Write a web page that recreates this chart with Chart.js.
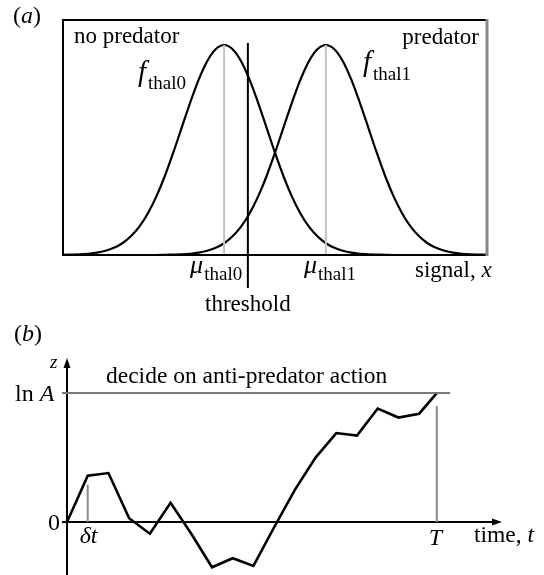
<!DOCTYPE html>
<html><head><meta charset="utf-8">
<script src="https://cdn.jsdelivr.net/npm/chart.js@4/dist/chart.umd.min.js"></script>
<style>
html,body{margin:0;padding:0;background:#fff;width:544px;height:575px;overflow:hidden}
canvas{position:absolute;left:0}
#ca{top:0}
#cb{top:310px}
</style></head><body>
<canvas id="ca" width="544" height="330"></canvas>
<canvas id="cb" width="544" height="265"></canvas>
<script>
// ---------- panel (a) data ----------
const signalX = [0,2,4,6,8,10,12,14,16,18,20,22,24,26,28,30,32,34,36,38,40,42,44,46,48,50,52,54,56,58,60,62,64,66,68,70,72,74,76,78,80,82,84,86,88,90,92,94,96,98,100];
const fThal0 = [0.001,0.002,0.003,0.006,0.011,0.020,0.034,0.056,0.089,0.135,0.198,0.278,0.375,0.487,0.607,0.726,0.835,0.923,0.980,1.000,0.980,0.923,0.835,0.726,0.607,0.487,0.375,0.278,0.198,0.135,0.089,0.056,0.034,0.020,0.011,0.006,0.003,0.002,0.001,0,0,0,0,0,0,0,0,0,0,0,0];
const fThal1 = [0,0,0,0,0,0,0,0,0,0,0,0,0.001,0.002,0.003,0.006,0.011,0.020,0.034,0.056,0.089,0.135,0.198,0.278,0.375,0.487,0.607,0.726,0.835,0.923,0.980,1.000,0.980,0.923,0.835,0.726,0.607,0.487,0.375,0.278,0.198,0.135,0.089,0.056,0.034,0.020,0.011,0.006,0.003,0.002,0.001];
const muThal0 = 38;
const muThal1 = 62;
const thresholdX = 43.6;

// ---------- panel (b) data ----------
const timeT = [0,1,2,3,4,5,6,7,8,9,10,11,12,13,14,15,16,17,17.85];
const zPath = [0,0.36,0.38,0.03,-0.09,0.15,-0.09,-0.35,-0.28,-0.34,-0.04,0.25,0.50,0.69,0.67,0.88,0.81,0.84,1.0];
const lnA = 1;
const bigT = 17.85;
const deltaT = 1;

const SERIF = "'Liberation Serif', 'Times New Roman', serif";
function F(size, italic){ return (italic ? 'italic ' : '') + size + 'px ' + SERIF; }
function seq(ctx, parts, x, y){
  ctx.textBaseline = 'alphabetic';
  ctx.textAlign = 'left';
  let cx = x;
  for (const p of parts){
    ctx.font = p.f;
    ctx.fillText(p.t, cx, y + (p.dy || 0));
    cx += ctx.measureText(p.t).width + (p.gap || 0);
  }
  return cx;
}
function pts(xs, ys){ return xs.map((x,i)=>({x:x, y:ys[i]})); }

// ---------- chart (a) ----------
const boxPlugin = {
  id:'boxA',
  afterDatasetsDraw(chart){
    const {ctx, chartArea:a} = chart;
    ctx.save();
    ctx.lineWidth = 2;
    ctx.strokeStyle = '#000';
    ctx.beginPath();
    ctx.moveTo(a.right, a.top); ctx.lineTo(a.left, a.top); ctx.lineTo(a.left, a.bottom); ctx.lineTo(a.right, a.bottom);
    ctx.stroke();
    ctx.strokeStyle = '#888';
    ctx.lineWidth = 3;
    ctx.beginPath(); ctx.moveTo(a.right, a.top - 1); ctx.lineTo(a.right, a.bottom + 1); ctx.stroke();
    ctx.fillStyle = '#000';
    seq(ctx, [{t:'(', f:F(24)}, {t:'a', f:F(24,true)}, {t:')', f:F(24)}], 13, 23);
    ctx.font = F(23);
    ctx.fillText('no predator', 74, 43);
    ctx.textAlign = 'right';
    ctx.fillText('predator', 479, 44);
    seq(ctx, [{t:'f', f:F(29,true), gap:2}, {t:'thal0', f:F(19), dy:8}], 138, 81);
    seq(ctx, [{t:'f', f:F(29,true), gap:2}, {t:'thal1', f:F(19), dy:9}], 363, 71);
    const xs = chart.scales.x;
    seq(ctx, [{t:'\u03bc', f:F(26,true), gap:1}, {t:'thal0', f:F(19), dy:7}], xs.getPixelForValue(muThal0) - 34, 273);
    seq(ctx, [{t:'\u03bc', f:F(26,true), gap:1}, {t:'thal1', f:F(19), dy:7}], xs.getPixelForValue(muThal1) - 22, 273);
    seq(ctx, [{t:'signal, ', f:F(23)}, {t:'x', f:F(23,true)}], 415, 277);
    ctx.font = F(23);
    ctx.textAlign = 'center';
    ctx.fillText('threshold', xs.getPixelForValue(thresholdX), 311);
    ctx.restore();
  }
};

new Chart(document.getElementById('ca'), {
  type:'line',
  data:{ datasets:[
    {data:pts([muThal0,muThal0],[0,1]), borderColor:'#c4c4c4', borderWidth:2, pointRadius:0},
    {data:pts([muThal1,muThal1],[0,1]), borderColor:'#c4c4c4', borderWidth:2, pointRadius:0},
    {data:pts(signalX,fThal0), borderColor:'#000', borderWidth:2.2, pointRadius:0, tension:0.3},
    {data:pts(signalX,fThal1), borderColor:'#000', borderWidth:2.2, pointRadius:0, tension:0.3},
    {data:pts([thresholdX,thresholdX],[-0.157,1.01]), borderColor:'#000', borderWidth:2, pointRadius:0, clip:false}
  ]},
  options:{
    responsive:false, animation:false, devicePixelRatio:1,
    layout:{padding:{left:63, top:20, right:57, bottom:75}},
    plugins:{legend:{display:false}, tooltip:{enabled:false}},
    scales:{
      x:{type:'linear', min:0, max:100, display:false},
      y:{type:'linear', min:0, max:1.119, display:false}
    }
  },
  plugins:[boxPlugin]
});

// ---------- chart (b) ----------
const axesPlugin = {
  id:'axesB',
  beforeDatasetsDraw(chart){
    const {ctx} = chart;
    const xs = chart.scales.x, ys = chart.scales.y;
    const x0 = xs.getPixelForValue(0), y0 = ys.getPixelForValue(0);
    const yTop = ys.getPixelForValue(ys.max) - 2, yBot = ys.getPixelForValue(ys.min);
    const xEnd = xs.getPixelForValue(xs.max);
    ctx.save();
    ctx.strokeStyle = '#000'; ctx.fillStyle = '#000'; ctx.lineWidth = 2;
    ctx.beginPath(); ctx.moveTo(x0, yBot); ctx.lineTo(x0, yTop + 8); ctx.stroke();
    ctx.beginPath(); ctx.moveTo(x0 - 3.5, yTop + 10); ctx.lineTo(x0, yTop); ctx.lineTo(x0 + 3.5, yTop + 10); ctx.closePath(); ctx.fill();
    ctx.beginPath(); ctx.moveTo(x0 - 5, y0); ctx.lineTo(xEnd - 8, y0); ctx.stroke();
    ctx.beginPath(); ctx.moveTo(xEnd - 10, y0 - 3.5); ctx.lineTo(xEnd, y0); ctx.lineTo(xEnd - 10, y0 + 3.5); ctx.closePath(); ctx.fill();
    ctx.strokeStyle = '#000'; ctx.lineWidth = 1.5;
    const yA = ys.getPixelForValue(lnA);
    ctx.beginPath(); ctx.moveTo(x0 - 5, yA); ctx.lineTo(x0, yA); ctx.stroke();
    ctx.restore();
  },
  afterDraw(chart){
    const {ctx} = chart;
    const xs = chart.scales.x, ys = chart.scales.y;
    const off = 310;
    ctx.save();
    ctx.fillStyle = '#000';
    seq(ctx, [{t:'(', f:F(24)}, {t:'b', f:F(24,true)}, {t:')', f:F(24)}], 14, 341 - off);
    seq(ctx, [{t:'z', f:F(19,true)}], 50, 368 - off);
    seq(ctx, [{t:'ln ', f:F(24)}, {t:'A', f:F(24,true)}], 15, ys.getPixelForValue(lnA) + 8);
    ctx.font = F(23.5);
    ctx.fillText('decide on anti-predator action', 106, 383 - off);
    ctx.font = F(24);
    ctx.textAlign = 'right';
    ctx.fillText('0', 60, ys.getPixelForValue(0) + 8);
    seq(ctx, [{t:'\u03b4', f:F(24,true)}, {t:'t', f:F(24,true)}], xs.getPixelForValue(deltaT) - 8, 543 - off);
    seq(ctx, [{t:'T', f:F(24,true)}], xs.getPixelForValue(bigT) - 8, 545 - off);
    seq(ctx, [{t:'time, ', f:F(23.5)}, {t:'t', f:F(23.5,true)}], 474, 542 - off);
    ctx.restore();
  }
};

new Chart(document.getElementById('cb'), {
  type:'line',
  data:{ datasets:[
    {data:pts([-0.24, 18.5],[lnA, lnA]), borderColor:'#7a7a7a', borderWidth:2, pointRadius:0, clip:false},
    {data:pts([bigT, bigT],[0, 0.9]), borderColor:'#8a8a8a', borderWidth:2, pointRadius:0},
    {data:pts([deltaT, deltaT],[0, 0.29]), borderColor:'#8a8a8a', borderWidth:2, pointRadius:0},
    {data:pts(timeT, zPath), borderColor:'#000', borderWidth:2.6, pointRadius:0, tension:0}
  ]},
  options:{
    responsive:false, animation:false, devicePixelRatio:1,
    layout:{padding:{left:67, top:50, right:42, bottom:0}},
    plugins:{legend:{display:false}, tooltip:{enabled:false}},
    scales:{
      x:{type:'linear', min:0, max:21, display:false},
      y:{type:'linear', min:-0.41, max:1.256, display:false}
    }
  },
  plugins:[axesPlugin]
});
</script>
</body></html>
